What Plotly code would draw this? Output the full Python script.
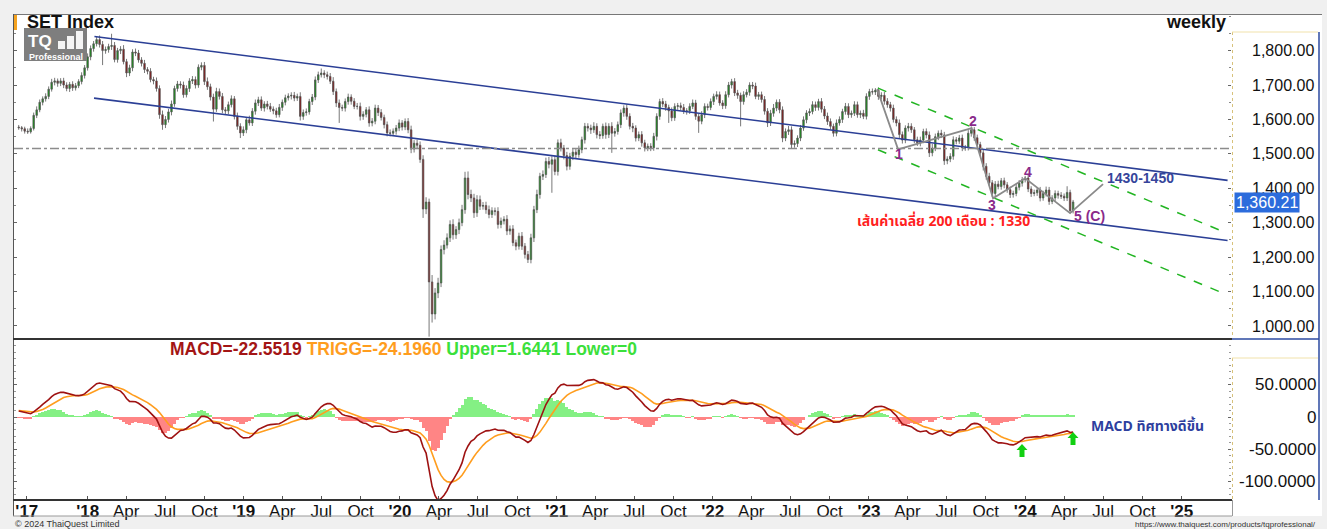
import numpy as np
import pandas as pd
import plotly.graph_objects as go

# ---------------- data ----------------
FIRST_WEEK = "2017-07-24"
FIRST_OPEN = 1578
CLOSES = [
    1576, 1573, 1566, 1564, 1574, 1612, 1628, 1650, 1660, 1667,
    1688, 1708, 1712, 1705, 1712, 1700, 1690, 1702, 1692, 1698,
    1710, 1728, 1750, 1782, 1806, 1820, 1832, 1818, 1800, 1803,
    1812, 1815, 1774, 1800, 1804, 1768, 1735, 1750, 1796, 1793,
    1773, 1763, 1745, 1740, 1716, 1712, 1690, 1614, 1585, 1600,
    1622, 1645, 1690, 1703, 1700, 1672, 1690, 1712, 1716, 1700,
    1752, 1757, 1710, 1695, 1665, 1630, 1681, 1667, 1628, 1625,
    1643, 1660, 1609, 1580, 1561, 1570, 1599, 1590, 1624, 1648,
    1657, 1633, 1645, 1638, 1630, 1625, 1614, 1635, 1650, 1663,
    1668, 1670, 1662, 1667, 1609, 1620, 1622, 1652, 1665, 1715,
    1730, 1735, 1730, 1725, 1711, 1681, 1648, 1635, 1633, 1652,
    1665, 1653, 1638, 1638, 1609, 1615, 1628, 1590, 1595, 1633,
    1620, 1606, 1585, 1561, 1560, 1566, 1575, 1590, 1578, 1594,
    1570, 1514, 1531, 1525, 1484, 1340, 1360, 1128, 1035, 1096,
    1125, 1222, 1235, 1256, 1295, 1265, 1280, 1300, 1338, 1430,
    1382, 1372, 1329, 1367, 1348, 1350, 1338, 1324, 1335, 1333,
    1295, 1305, 1310, 1276, 1282, 1242, 1232, 1261, 1232, 1208,
    1193, 1256, 1338, 1382, 1435, 1440, 1478, 1470, 1483, 1449,
    1532, 1517, 1495, 1464, 1493, 1505, 1498, 1512, 1541, 1580,
    1575, 1570, 1580, 1556, 1553, 1580, 1556, 1580, 1560, 1565,
    1585, 1619, 1633, 1609, 1580, 1575, 1546, 1556, 1532, 1517,
    1522, 1518, 1551, 1609, 1652, 1645, 1635, 1625, 1605, 1638,
    1640, 1635, 1624, 1625, 1638, 1648, 1609, 1595, 1614, 1638,
    1635, 1652, 1667, 1672, 1648, 1640, 1672, 1700, 1710, 1677,
    1670, 1652, 1672, 1679, 1700, 1697, 1667, 1672, 1658, 1624,
    1590, 1618, 1633, 1650, 1628, 1546, 1565, 1570, 1527, 1530,
    1546, 1575, 1599, 1619, 1623, 1643, 1635, 1652, 1630, 1610,
    1594, 1580, 1560, 1590, 1600, 1623, 1638, 1614, 1618, 1643,
    1614, 1618, 1609, 1667, 1681, 1680, 1685, 1667, 1670, 1653,
    1643, 1633, 1600, 1590, 1556, 1540, 1575, 1580, 1570, 1541,
    1532, 1540, 1565, 1555, 1503, 1517, 1550, 1560, 1555, 1480,
    1485, 1493, 1541, 1537, 1546, 1518, 1518, 1560, 1570, 1547,
    1527, 1503, 1464, 1435, 1416, 1385, 1412, 1405, 1422, 1410,
    1396, 1382, 1385, 1403, 1415, 1425, 1430, 1398, 1385, 1387,
    1395, 1372, 1385, 1395, 1362, 1372, 1385, 1380, 1377, 1372,
    1388, 1335, 1360.21,
]
# upper / lower shadow length of every weekly candle (index points)
UP_WICK = [
    6, 5, 6, 8, 6, 8, 10, 8, 7, 9,
    8, 10, 9, 7, 8, 9, 8, 7, 9, 8,
    7, 9, 8, 10, 9, 8, 9, 12, 10, 9,
    8, 34, 10, 8, 9, 12, 8, 9, 8, 10,
    9, 8, 10, 7, 9, 8, 10, 9, 12, 10,
    9, 10, 8, 9, 8, 10, 9, 8, 10, 9,
    8, 9, 10, 12, 9, 10, 11, 9, 10, 8,
    9, 10, 8, 11, 9, 10, 8, 12, 9, 10,
    9, 10, 8, 9, 10, 8, 9, 10, 8, 9,
    8, 9, 10, 8, 12, 9, 10, 8, 9, 10,
    9, 13, 8, 9, 10, 12, 9, 10, 8, 9,
    10, 8, 9, 10, 11, 9, 8, 10, 9, 10,
    9, 10, 8, 9, 10, 8, 9, 10, 8, 9,
    10, 12, 9, 10, 11, 12, 14, 10, 20, 14,
    15, 12, 14, 13, 12, 15, 10, 12, 14, 18,
    19, 14, 12, 13, 12, 10, 11, 12, 10, 9,
    12, 10, 9, 12, 10, 11, 9, 10, 12, 9,
    10, 12, 11, 14, 10, 12, 11, 13, 10, 12,
    10, 12, 9, 11, 10, 9, 10, 12, 9, 10,
    9, 10, 12, 9, 10, 8, 11, 9, 12, 10,
    9, 10, 8, 11, 9, 10, 8, 9, 10, 9,
    8, 9, 10, 9, 8, 10, 9, 8, 10, 9,
    8, 9, 10, 8, 9, 10, 9, 8, 10, 9,
    8, 9, 8, 10, 9, 8, 10, 9, 8, 10,
    9, 8, 10, 9, 8, 9, 10, 8, 9, 10,
    9, 10, 12, 8, 9, 10, 9, 11, 10, 9,
    8, 9, 10, 8, 9, 10, 9, 8, 10, 9,
    10, 9, 8, 10, 9, 8, 10, 9, 8, 10,
    9, 8, 10, 9, 8, 9, 6, 8, 9, 10,
    9, 8, 10, 9, 10, 9, 8, 10, 9, 8,
    9, 10, 8, 9, 10, 12, 9, 8, 10, 9,
    8, 9, 10, 8, 9, 10, 8, 9, 10, 8,
    9, 8, 10, 9, 10, 8, 9, 10, 8, 9,
    8, 9, 8, 10, 9, 8, 6, 9, 8, 9,
    8, 9, 8, 10, 9, 8, 9, 8, 9, 8,
    18, 8, 6,
]
DN_WICK = [
    6, 8, 7, 6, 5, 6, 8, 7, 9, 8,
    8, 7, 9, 10, 8, 9, 8, 10, 9, 8,
    7, 8, 9, 8, 10, 9, 8, 9, 42, 9,
    9, 10, 8, 9, 10, 8, 12, 9, 10, 9,
    8, 9, 10, 9, 8, 10, 9, 12, 15, 10,
    9, 10, 8, 9, 10, 9, 8, 10, 9, 10,
    8, 9, 10, 9, 10, 36, 8, 9, 10, 9,
    10, 8, 9, 10, 15, 9, 10, 8, 9, 10,
    9, 8, 10, 9, 8, 10, 9, 8, 10, 9,
    8, 10, 9, 8, 12, 10, 9, 8, 10, 9,
    9, 8, 10, 9, 8, 10, 12, 45, 9, 10,
    9, 10, 8, 9, 12, 10, 9, 11, 10, 9,
    10, 9, 11, 10, 9, 8, 10, 9, 10, 9,
    10, 12, 10, 11, 10, 26, 15, 159, 25, 16,
    15, 12, 14, 10, 12, 14, 12, 13, 10, 12,
    14, 12, 15, 12, 11, 10, 12, 11, 10, 12,
    12, 11, 10, 12, 11, 10, 12, 10, 11, 12,
    10, 11, 12, 10, 12, 11, 10, 12, 83, 11,
    12, 10, 11, 12, 10, 11, 10, 9, 10, 11,
    10, 12, 9, 11, 10, 9, 12, 10, 57, 10,
    9, 10, 11, 10, 9, 12, 10, 9, 11, 10,
    9, 10, 9, 12, 10, 9, 10, 35, 10, 9,
    10, 9, 8, 10, 9, 8, 10, 34, 9, 10,
    9, 8, 10, 9, 8, 10, 9, 8, 10, 9,
    10, 72, 9, 8, 10, 9, 8, 10, 9, 10,
    12, 9, 10, 9, 10, 12, 9, 10, 11, 9,
    10, 9, 8, 10, 9, 8, 10, 9, 10, 9,
    10, 9, 10, 9, 8, 10, 9, 10, 9, 8,
    9, 10, 8, 9, 10, 8, 9, 10, 9, 10,
    9, 10, 9, 10, 12, 10, 9, 10, 9, 10,
    9, 10, 9, 10, 12, 10, 9, 10, 9, 12,
    10, 9, 10, 9, 8, 10, 9, 8, 10, 9,
    10, 9, 12, 10, 9, 10, 9, 8, 9, 10,
    9, 10, 9, 8, 9, 10, 8, 9, 10, 8,
    9, 10, 8, 9, 10, 8, 9, 10, 8, 9,
    9, 7, 8,
]
# MACD(12,26,9) state just before the first visible week (estimated)
EMA_FAST_SEED = 1577.0
EMA_SLOW_SEED = 1567.0
SIGNAL_SEED = 10.0

PRICE_TICKS = [1000, 1100, 1200, 1300, 1400, 1500, 1600, 1700, 1800]
MACD_TICKS = [50, 0, -50, -100]
MACD_TICK_LABELS = ["50.0000", "0", "-50.0000", "-100.0000"]
TICK_DATES = ["2017-08-12",
              "2018-01-01", "2018-04-01", "2018-07-01", "2018-10-01",
              "2019-01-01", "2019-04-01", "2019-07-01", "2019-10-01",
              "2020-01-01", "2020-04-01", "2020-07-01", "2020-10-01",
              "2021-01-01", "2021-04-01", "2021-07-01", "2021-10-01",
              "2022-01-01", "2022-04-01", "2022-07-01", "2022-10-01",
              "2023-01-01", "2023-04-01", "2023-07-01", "2023-10-01",
              "2024-01-01", "2024-04-01", "2024-07-01", "2024-10-01",
              "2025-01-01"]
TICK_LABELS = ["'17",
               "'18", "Apr", "Jul", "Oct", "'19", "Apr", "Jul", "Oct",
               "'20", "Apr", "Jul", "Oct", "'21", "Apr", "Jul", "Oct",
               "'22", "Apr", "Jul", "Oct", "'23", "Apr", "Jul", "Oct",
               "'24", "Apr", "Jul", "Oct", "'25"]

# drawn analysis lines (date, price)
UPPER_CHANNEL = (["2018-01-17", "2025-04-18"], [1841, 1423])
LOWER_CHANNEL = (["2018-01-16", "2025-04-18"], [1662, 1248.5])
GREEN_UPPER = (["2023-01-22", "2025-04-14"], [1691, 1271])
GREEN_LOWER = (["2023-01-22", "2025-04-14"], [1512, 1092])
WAVE_PATH = (["2023-01-20", "2023-03-10", "2023-08-29", "2023-10-18",
              "2024-01-01", "2024-04-15", "2024-07-01"],
             [1688, 1513, 1575, 1371, 1429, 1328, 1412])
RESISTANCE_LEVEL = 1516
WAVE_LABELS = [("1", "2023-03-12", 1500), ("2", "2023-09-01", 1597),
               ("3", "2023-10-16", 1351), ("4", "2024-01-08", 1447)]
LAST_PRICE = 1360.21
LAST_PRICE_TEXT = "1,360.21"

# ---------------- derived series ----------------
dates = pd.date_range(FIRST_WEEK, periods=len(CLOSES), freq="7D")
close = np.array(CLOSES, dtype=float)
open_ = np.concatenate([[FIRST_OPEN], close[:-1]])
high = np.maximum(open_, close) + np.array(UP_WICK, dtype=float)
low = np.minimum(open_, close) - np.array(DN_WICK, dtype=float)


def ema(values, span, seed):
    a = 2.0 / (span + 1.0)
    out, prev = [], seed
    for v in values:
        prev = prev + a * (v - prev)
        out.append(prev)
    return np.array(out)


macd = ema(close, 12, EMA_FAST_SEED) - ema(close, 26, EMA_SLOW_SEED)
signal = ema(macd, 9, SIGNAL_SEED)
hist = macd - signal

# ---------------- layout helpers (pixel -> paper) ----------------
W, H = 1327, 529


def px(x):
    return x / W


def py(y):
    return 1 - y / H


FONT = "Liberation Sans, Arial, Helvetica, sans-serif"
THAI = "Tahoma, 'Noto Sans Thai', 'Leelawadee UI', 'DejaVu Sans', 'Liberation Sans', sans-serif"
X_RANGE = ["2017-07-13", "2025-04-26"]

fig = go.Figure()

fig.add_trace(go.Candlestick(
    x=dates, open=open_, high=high, low=low, close=close,
    increasing=dict(fillcolor="#119a11", line=dict(color="#555555", width=0.8)),
    decreasing=dict(fillcolor="#8c1010", line=dict(color="#555555", width=0.8)),
    whiskerwidth=0, hoverinfo="skip", xaxis="x", yaxis="y"))

for (xs, ys), color, dash, width in [
        (UPPER_CHANNEL, "#2b3f96", "solid", 1.6),
        (LOWER_CHANNEL, "#2b3f96", "solid", 1.6),
        (GREEN_UPPER, "#22b522", "dash", 1.5),
        (GREEN_LOWER, "#22b522", "dash", 1.5),
        (WAVE_PATH, "#8a8a8a", "solid", 1.8)]:
    fig.add_trace(go.Scatter(x=xs, y=ys, mode="lines",
                             line=dict(color=color, width=width, dash=dash),
                             hoverinfo="skip", xaxis="x", yaxis="y"))

fig.add_trace(go.Bar(
    x=dates, y=hist, width=7 * 86400000,
    marker=dict(color=["#84f084" if v >= 0 else "#ff8585" for v in hist], line=dict(width=0)),
    hoverinfo="skip", xaxis="x2", yaxis="y2"))
fig.add_trace(go.Scatter(x=dates, y=signal, mode="lines", line=dict(color="#ff9d1e", width=1.6),
                         hoverinfo="skip", xaxis="x2", yaxis="y2"))
fig.add_trace(go.Scatter(x=dates, y=macd, mode="lines", line=dict(color="#9e1212", width=1.6),
                         hoverinfo="skip", xaxis="x2", yaxis="y2"))

shapes = []


def hline(x0, x1, y, color, width=1, dash="solid"):
    shapes.append(dict(type="line", xref="paper", yref="paper", x0=px(x0), x1=px(x1),
                       y0=py(y), y1=py(y), line=dict(color=color, width=width, dash=dash)))


def vline(x, y0, y1, color, width=1, dash="solid"):
    shapes.append(dict(type="line", xref="paper", yref="paper", x0=px(x), x1=px(x),
                       y0=py(y0), y1=py(y1), line=dict(color=color, width=width, dash=dash)))


def rect(x0, y0, x1, y1, fill, layer="above"):
    shapes.append(dict(type="rect", xref="paper", yref="paper", x0=px(x0), x1=px(x1),
                       y0=py(y1), y1=py(y0), fillcolor=fill, line=dict(width=0), layer=layer))


rect(13, 14, 1322, 516, "white", layer="below")
rect(13, 15, 17, 30, "#f5a31f")
# logo
rect(24, 28, 87, 61, "#7e7e7e")
for (a, b, top) in [(58, 65, 41), (67, 74, 36), (76, 83, 31)]:
    rect(a, top, b, 49, "#f4f4f4")
# frames
hline(13, 1322, 14.5, "#777777", 1)
vline(13.5, 14, 516, "#555555", 1)
hline(13, 1232, 339, "#333333", 2)
hline(13, 1232, 500, "#333333", 2)
hline(13, 1232, 516, "#9a9a9a", 1)
vline(1232.5, 500, 516, "#9a9a9a", 1)
# axis boxes
for top, bottom in [(32, 338), (358, 500)]:
    vline(1232.5, top, bottom, "#d8c27c", 1, "dot")
    hline(1232, 1318, top, "#f1e2ab", 1)
vline(1319, 32, 500, "#2b4aa0", 1.5)
hline(1232, 1319, 339, "#2b4aa0", 1.5)
# resistance level
shapes.append(dict(type="line", xref="paper", yref="y", x0=px(14), x1=px(1231),
                   y0=RESISTANCE_LEVEL, y1=RESISTANCE_LEVEL,
                   line=dict(color="#8c8c8c", width=1.5, dash="dashdot")))
# green arrows in MACD panel
for cx, top in [(1022, 444), (1073, 432)]:
    pts = [(cx, top), (cx + 5.5, top + 6), (cx + 2.5, top + 6), (cx + 2.5, top + 13),
           (cx - 2.5, top + 13), (cx - 2.5, top + 6), (cx - 5.5, top + 6)]
    path = "M " + " L ".join(f"{px(a):.5f},{py(b):.5f}" for a, b in pts) + " Z"
    shapes.append(dict(type="path", xref="paper", yref="paper", path=path,
                       fillcolor="#12d012", line=dict(width=0)))

ann = []


def text(x, y, s, size, color="#111111", xanchor="left", bold=False, family=FONT,
         xref="paper", yref="paper", **kw):
    ann.append(dict(x=x, y=y, xref=xref, yref=yref, text=f"<b>{s}</b>" if bold else s,
                    showarrow=False, xanchor=xanchor, yanchor="middle",
                    font=dict(size=size, color=color, family=family), **kw))


text(px(25), py(22), "SET Index", 18, bold=True)
text(px(1228), py(22), "weekly", 18, xanchor="right", bold=True)
text(px(26), py(41.5), "TQ", 17, color="#ffffff", bold=True)
text(px(27), py(56.5), "Professional", 9, color="#ffffff", bold=True)

for lbl, d, v in WAVE_LABELS:
    text(d, v, lbl, 14, color="#8a2a8a", xanchor="center", bold=True, xref="x", yref="y")
text("2024-04-20", 1319, "5 (C)", 14, color="#8a2a8a", bold=True, xref="x", yref="y")
text("2024-07-06", 1429, "1430-1450", 14, color="#36459b", bold=True, xref="x", yref="y")
text("2022-11-30", 1305, "เส้นค่าเฉลี่ย 200 เดือน : 1330", 14, color="#ff1f1f", bold=True,
     family=THAI, xref="x", yref="y")
text(px(1234), LAST_PRICE, LAST_PRICE_TEXT, 16, color="#ffffff",
     yref="y", bgcolor="#2c6cdc", borderpad=1)

text(px(168), py(349),
     "<span style='color:#a31515'>MACD=-22.5519</span> "
     "<span style='color:#ff9d1e'>TRIGG=-24.1960</span> "
     "<span style='color:#3be03b'>Upper=1.6441 Lower=0</span>", 17.5, bold=True)
text(px(1089), py(426), "MACD ทิศทางดีขึ้น", 14, color="#2e3f9e", bold=True, family=THAI)
for v, lbl in zip(MACD_TICKS, MACD_TICK_LABELS):
    text(px(1318), v, lbl, 17, xanchor="right", yref="y2")

text(px(13), py(524.3), "© 2024 ThaiQuest Limited", 9, color="#333333")
text(px(1318), py(524.3), "https://www.thaiquest.com/products/tqprofessional/", 8,
     color="#333333", xanchor="right")

tick_text = [f"<b>{t}</b>" if t.startswith("'") else t for t in TICK_LABELS]

fig.update_layout(
    width=W, height=H, margin=dict(l=0, r=0, t=0, b=0),
    paper_bgcolor="#f0f0f0", plot_bgcolor="white", showlegend=False,
    hovermode=False, bargap=0, shapes=shapes, annotations=ann,
    font=dict(family=FONT, color="#111111"),
    xaxis=dict(domain=[px(14), px(1231)], range=X_RANGE, type="date", anchor="y",
               showticklabels=False, showgrid=False, zeroline=False, ticks="",
               rangeslider=dict(visible=False), fixedrange=True),
    xaxis2=dict(domain=[px(14), px(1231)], range=X_RANGE, type="date", anchor="y2",
                matches="x", tickmode="array", tickvals=TICK_DATES, ticktext=tick_text,
                tickfont=dict(size=17, color="#111111", family=FONT), ticks="inside",
                ticklen=3, tickcolor="#555555", showgrid=False, zeroline=False,
                fixedrange=True),
    yaxis=dict(domain=[py(338), py(14)], range=[965.1, 1906.4], side="right",
               tickmode="array", tickvals=PRICE_TICKS,
               ticktext=[f"{v:,.2f}" for v in PRICE_TICKS],
               tickfont=dict(size=16, color="#111111", family=FONT),
               ticks="inside", ticklen=3, tickcolor="#666666", mirror="ticks",
               ticklabelstandoff=20, showgrid=False, zeroline=False, showline=False,
               minor=dict(dtick=50, ticks="inside", ticklen=2, tickcolor="#888888"),
               fixedrange=True, anchor="x"),
    yaxis2=dict(domain=[py(499), py(340)], range=[-126.2, 118.5], side="right",
                tickmode="array", tickvals=MACD_TICKS, showticklabels=False,
                ticks="inside", ticklen=3, tickcolor="#666666", mirror="ticks",
                minor=dict(dtick=10, ticks="inside", ticklen=2, tickcolor="#999999"),
                showgrid=False, zeroline=False, showline=False, fixedrange=True,
                anchor="x2"),
)

fig.write_html("out.html", config={"displayModeBar": False})
